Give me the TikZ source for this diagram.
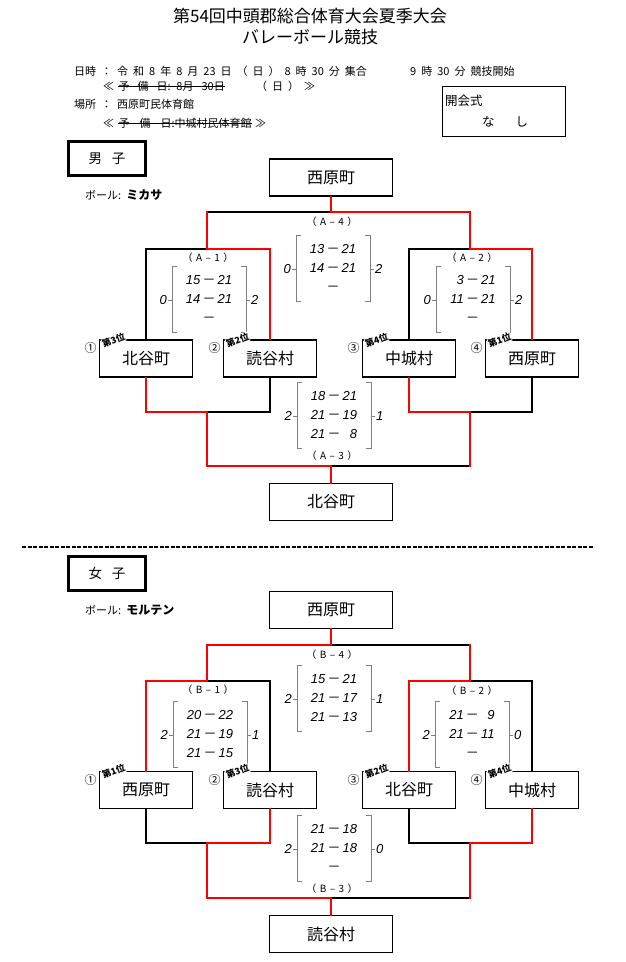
\documentclass[tikz,border=0pt]{standalone}
\usepackage{fontspec}
\setmainfont{Liberation Sans}
\newfontfamily\jp{Noto Sans CJK JP}

\newcommand{\sdash}{{\jp\upshape －}}
\newcommand{\hdrfont}{\jp\fontsize{11}{11}\selectfont\spaceskip=5pt\relax}
\newcommand{\lblfont}{\jp\fontsize{10}{10}\selectfont\spaceskip=3.5pt\relax}
\newcommand{\scoreset}[6]{%
  \draw[brk] (#2-32,#3-34) -- (#2-37,#3-34) -- (#2-37,#3+32) -- (#2-32,#3+32)
             (#2-37,#3) -- (#2-41,#3);
  \draw[brk] (#2+32,#3-34) -- (#2+37,#3-34) -- (#2+37,#3+32) -- (#2+32,#3+32)
             (#2+37,#3) -- (#2+41,#3);
  \node[pts,anchor=east] (#1-l) at (#2-41,#3) {#4};
  \node[pts,anchor=west] (#1-r) at (#2+41,#3) {#5};
  \node[rows] (#1-s) at (#2,#3) {\begin{tabular}{@{}r@{\,}c@{\,}r@{}}#6\end{tabular}};
}

\begin{document}
\begin{tikzpicture}[x=1pt,y=-1pt,
  team/.style={draw,line width=1.9pt,minimum width=93pt,minimum height=37pt,inner sep=0pt,font=\jp\fontsize{16}{16}\selectfont},
  final/.style={team,minimum width=123pt},
  sexbox/.style={draw,line width=3.4pt,minimum width=77pt,minimum height=34pt,inner sep=0pt,font=\jp\fontsize{13.5}{13.5}\selectfont},
  win/.style={red,line width=2.8pt,line cap=rect},
  lose/.style={black,line width=1.8pt,line cap=rect},
  brk/.style={gray,line width=0.7pt},
  strike/.style={line width=0.6pt},
  pts/.style={font=\itshape\fontsize{13}{13}\selectfont,inner sep=1pt},
  rows/.style={font=\itshape\fontsize{13}{19}\selectfont,inner sep=0pt},
  match/.style={font=\lblfont,inner sep=0pt},
  rank/.style={fill=white,inner sep=0.4pt,rotate=20,font=\jp\bfseries\fontsize{9}{9}\selectfont},
  seed/.style={font=\jp\fontsize{12}{12}\selectfont,inner sep=0pt},
  txt/.style={anchor=west,inner sep=0pt,font=\hdrfont}]
\useasboundingbox (0,0) rectangle (625,962);

% heading
\node[font=\jp\fontsize{17}{17}\selectfont] (title) at (310,16) {第54回中頭郡総合体育大会夏季大会};
\node[font=\jp\fontsize{17}{17}\selectfont] (title2) at (310,37) {バレーボール競技};
\node[txt] (date) at (74,71) {日時 ： 令 和 8 年 8 月 23 日 （ 日 ） 8 時 30 分 集合};
\node[txt] (start) at (410,71) {9 時 30 分 競技開始};
\node[txt] (spare) at (103,86) {≪};
\node[txt] (sparedel) at ([xshift=4pt]spare.east) {予\hspace{8pt}備\hspace{8pt}日: 8月\hspace{8pt}30日};
\node[txt] (sparerest) at (256,86) {（ 日 ） ≫};
\draw[strike] (sparedel.west) -- (sparedel.east);
\node[txt] (place) at (74,104) {場所 ： 西原町民体育館};
\node[txt] (spare2) at (103,123) {≪};
\node[txt] (spare2del) at ([xshift=4pt]spare2.east) {予\hspace{10pt}備\hspace{10pt}日:中城村民体育館};
\node[txt] (spare2rest) at ([xshift=3pt]spare2del.east) {≫};
\draw[strike] (spare2del.west) -- (spare2del.east);
\node[draw,line width=0.8pt,minimum width=123pt,minimum height=50pt] (open) at (504,111.5) {};
\node[txt,font=\jp\fontsize{12.5}{12.5}\selectfont] (opent) at (445,101) {開会式};
\node[txt,font=\jp\fontsize{12.5}{12.5}\selectfont] (openb) at (482,122) {な\hspace{21pt}し};

% men
\node[sexbox] (men) at (107,158.5) {男\hspace{10pt}子};
\node[txt] (menball) at (85,195) {ボール:{\bfseries\fontsize{12}{12}\selectfont\ ミカサ}};

\node[final] (mtop) at (331,177.5) {西原町};
\node[team] (m1) at (146,358.5) {北谷町};
\node[team] (m2) at (270,358.5) {読谷村};
\node[team] (m3) at (409,358.5) {中城村};
\node[team] (m4) at (532,358.5) {西原町};
\node[final] (mbot) at (331,502) {北谷町};

\coordinate (ma4) at (331,212);
\coordinate (ma1) at (207,249);
\coordinate (ma2) at (470,249);
\coordinate (mb1) at (207,412);
\coordinate (mb2) at (470,412);
\coordinate (ma3) at (331,466);

\draw[lose] (m1.north) |- (ma1);
\draw[lose] (ma1 |- ma4) -- (ma4);
\draw[lose] (m3.north) |- (ma2);
\draw[win] (m2.north) |- (ma1) -- (ma1 |- ma4);
\draw[win] (mtop.south) -- (ma4) -| (ma2) -| (m4.north);

\draw[lose] (m2.south) |- (mb1);
\draw[lose] (m4.south) |- (mb2);
\draw[lose] (ma3) -- (ma3 -| mb2);
\draw[win] (m1.south) |- (mb1) |- (ma3) -- (mbot.north);
\draw[win] (m3.south) |- (mb2) -- (ma3 -| mb2);

\node[match] (a4) at (332,222) {（ A – 4 ）};
\node[match] (a1) at (208,258) {（ A – 1 ）};
\node[match] (a2) at (472,258) {（ A – 2 ）};
\node[match] (a3) at (332,456) {（ A – 3 ）};
\scoreset{sa4}{333}{269}{0}{2}{13&\sdash&21\\14&\sdash&21\\&\sdash&}
\scoreset{sa1}{209}{300}{0}{2}{15&\sdash&21\\14&\sdash&21\\&\sdash&}
\scoreset{sa2}{473}{300}{0}{2}{3&\sdash&21\\11&\sdash&21\\&\sdash&}
\scoreset{sa3}{334}{416}{2}{1}{18&\sdash&21\\21&\sdash&19\\21&\sdash&8}

\draw[line width=1.3pt,dash pattern=on 4pt off 1.5pt] (22,547) -- (594,547);

% women
\node[sexbox] (women) at (107,573.5) {女\hspace{10pt}子};
\node[txt] (womenball) at (85,610) {ボール:{\bfseries\fontsize{12}{12}\selectfont\ モルテン}};

\node[final] (wtop) at (331,610) {西原町};
\node[team] (w1) at (146,790) {西原町};
\node[team] (w2) at (270,790) {読谷村};
\node[team] (w3) at (409,790) {北谷町};
\node[team] (w4) at (532,790) {中城村};
\node[final] (wbot) at (331,934) {読谷村};

\coordinate (wb4) at (331,645);
\coordinate (wb1) at (207,681);
\coordinate (wb2) at (470,681);
\coordinate (wc1) at (207,843);
\coordinate (wc2) at (470,843);
\coordinate (wb3) at (331,898);

\draw[lose] (w2.north) |- (wb1);
\draw[lose] (w4.north) |- (wb2);
\draw[lose] (wb4) -- (wb4 -| wb2);
\draw[win] (w1.north) |- (wb1) |- (wb4) -- (wtop.south);
\draw[win] (w3.north) |- (wb2) -- (wb4 -| wb2);

\draw[lose] (w1.south) |- (wc1);
\draw[lose] (w3.south) |- (wc2);
\draw[lose] (wb3) -- (wb3 -| wc2);
\draw[win] (w2.south) |- (wc1) |- (wb3) -- (wbot.north);
\draw[win] (w4.south) |- (wc2) -- (wb3 -| wc2);

\node[match] (b4) at (332,655) {（ B – 4 ）};
\node[match] (b1) at (208,690) {（ B – 1 ）};
\node[match] (b2) at (472,691) {（ B – 2 ）};
\node[match] (b3) at (332,889) {（ B – 3 ）};
\scoreset{sb4}{334}{699}{2}{1}{15&\sdash&21\\21&\sdash&17\\21&\sdash&13}
\scoreset{sb1}{210}{735}{2}{1}{20&\sdash&22\\21&\sdash&19\\21&\sdash&15}
\scoreset{sb2}{472}{735}{2}{0}{21&\sdash&9\\21&\sdash&11\\&\sdash&}
\scoreset{sb3}{334}{849}{2}{0}{21&\sdash&18\\21&\sdash&18\\&\sdash&}

% placings
\foreach \b/\s/\r in {m1/①/第3位,m2/②/第2位,m3/③/第4位,m4/④/第1位,w1/①/第1位,w2/②/第3位,w3/③/第2位,w4/④/第4位}{
  \node[seed] (\b-seed) at ([xshift=-8pt,yshift=-9pt]\b.north west) {\s};
  \node[rank] (\b-rank) at ([xshift=15pt,yshift=-1pt]\b.north west) {\r};
}
\end{tikzpicture}
\end{document}
